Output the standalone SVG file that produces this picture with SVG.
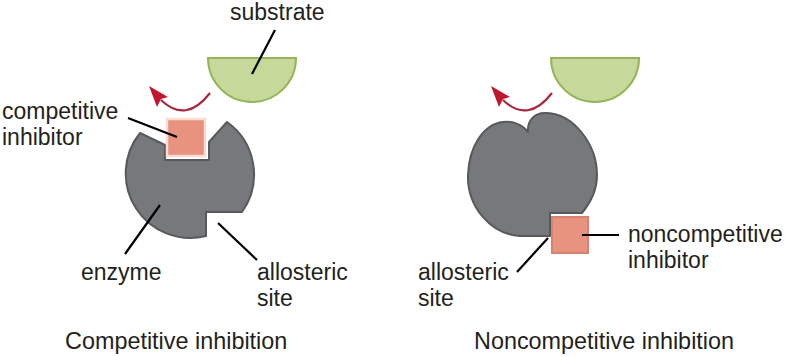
<svg xmlns="http://www.w3.org/2000/svg" width="785" height="357" viewBox="0 0 785 357">
  <style>
    .lbl { font-family: "Liberation Sans", Arial, sans-serif; font-size: 23px; fill: #231f20; }
    .title { font-family: "Liberation Sans", Arial, sans-serif; font-size: 23.4px; fill: #231f20; }
    .enzyme { fill: #77787b; stroke: #58595b; stroke-width: 2; stroke-linejoin: round; }
    .substrate { fill: #c6d99b; stroke: #94b557; stroke-width: 2; }
    .inhib { fill: #e8937f; stroke: #d9826f; stroke-width: 2; }
    .inhib-comp { fill: #e8937f; stroke: #f9ddd4; stroke-width: 2.5; }
    .ptr { stroke: #000; stroke-width: 2.2; fill: none; }
    .arc { stroke: #a8283e; stroke-width: 2.2; fill: none; }
    .head { fill: #c0172f; }
  </style>
  <defs>
    <g id="release-arrow">
      <path class="arc" d="M210,93 Q186,124 161,100"/>
      <polygon class="head" points="149,86 168,97 161,99 157,107"/>
    </g>
  </defs>
  <rect width="785" height="357" fill="#fff"/>

  <!-- Competitive inhibition -->
  <g id="enzyme-competitive">
    <path class="enzyme" d="M140,133 L165,145 L165,160 L209,160 L209,142 L227,122 A64.5,64.5 0 0 1 242,212 L206,212 L206,236 A64.5,64.5 0 0 1 140,133 Z"/>
  </g>
  <g id="competitive-inhibitor">
    <rect class="inhib-comp" x="167" y="119" width="38" height="37"/>
  </g>
  <g id="substrate-competitive">
    <path class="substrate" d="M208,58 L296,58 A44,44 0 0 1 208,58 Z"/>
  </g>

  <!-- Noncompetitive inhibition -->
  <g id="enzyme-noncompetitive">
    <path class="enzyme" d="M528,132 C522,124 512,121 503,122 C484,124 469,146 468,175 C467,206 490,234 520,236 L550,236 L550,213 L582,213 C592,201 597,189 597,175 C597,145 574,113 545,113 C534,113 527,121 528,132 Z"/>
  </g>
  <g id="noncompetitive-inhibitor">
    <rect class="inhib" x="552" y="217" width="36" height="36"/>
  </g>
  <g id="substrate-noncompetitive">
    <path class="substrate" d="M551,58 L639,58 A44,44 0 0 1 551,58 Z"/>
  </g>

  <g id="connectors">
    <use href="#release-arrow"/>
    <use href="#release-arrow" transform="translate(342,0)"/>
    <line class="ptr" x1="252" y1="74" x2="275" y2="30"/>
    <line class="ptr" x1="128" y1="118" x2="177" y2="137"/>
    <line class="ptr" x1="160" y1="205" x2="125" y2="254"/>
    <line class="ptr" x1="218" y1="223" x2="257" y2="260"/>
    <line class="ptr" x1="582" y1="235" x2="619" y2="235"/>
    <line class="ptr" x1="548" y1="238" x2="517" y2="272"/>
  </g>

  <g id="labels">
    <text class="lbl" x="230" y="20">substrate</text>
    <text class="lbl" x="2" y="119">competitive</text>
    <text class="lbl" x="2" y="145">inhibitor</text>
    <text class="lbl" x="81" y="280">enzyme</text>
    <text class="lbl" x="257" y="280">allosteric</text>
    <text class="lbl" x="257" y="306">site</text>
    <text class="lbl" x="628" y="242">noncompetitive</text>
    <text class="lbl" x="628" y="268">inhibitor</text>
    <text class="lbl" x="418" y="280">allosteric</text>
    <text class="lbl" x="418" y="306">site</text>
    <text class="title" x="65" y="349">Competitive inhibition</text>
    <text class="title" x="474" y="349">Noncompetitive inhibition</text>
  </g>
</svg>
